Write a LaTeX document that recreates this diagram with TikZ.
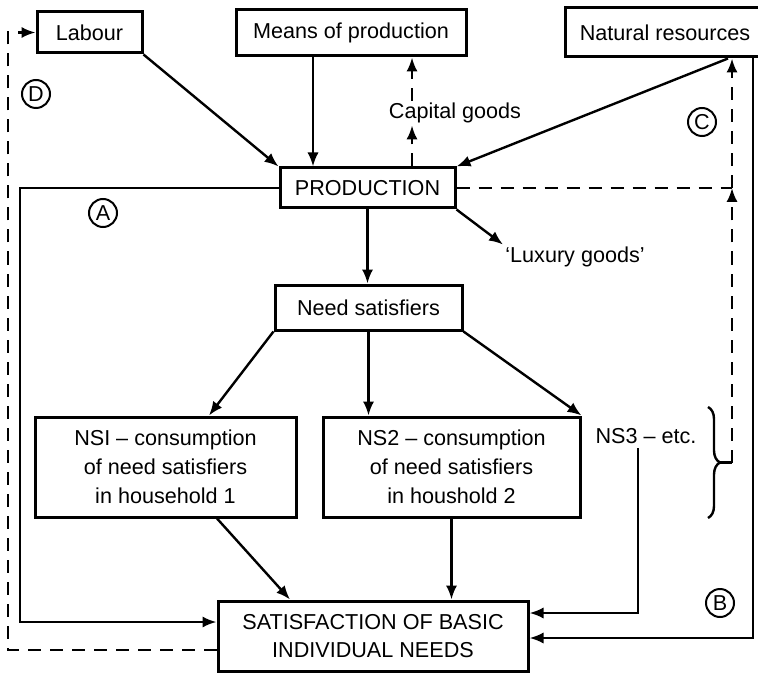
\documentclass[tikz,border=0pt]{standalone}
\usepackage{fontspec}
\setmainfont{Liberation Sans}
\usetikzlibrary{arrows.meta,decorations.pathreplacing,calc}
\begin{document}
\begin{tikzpicture}[x=0.5pt,y=-0.5pt,
  font=\fontsize{10.8}{14.4}\selectfont,
  box/.style={draw,line width=1.5pt,inner sep=0pt,align=center},
  conn/.style={line width=1.2pt},
  arr/.style={conn,-{Latex[length=7pt,width=5.6pt]}},
  dsh/.style={dash pattern=on 6.5pt off 4.5pt},
  tag/.style={draw,circle,line width=1pt,minimum size=14pt,inner sep=0pt}
]
\useasboundingbox (0,0) rectangle (758,673);

% boxes
\node[box,minimum width=52.5pt,minimum height=20.5pt] (lab) at (89.5,32.5) {Labour};
\node[box,minimum width=115pt,minimum height=23pt] (mop) at (351,33) {Means of production};
\node[box,minimum width=100pt,minimum height=24.5pt] (nat) at (665,32.5) {Natural resources};
\node[box,minimum width=87.5pt,minimum height=20pt] (prod) at (367.5,188) {PRODUCTION};
\node[box,minimum width=93.5pt,minimum height=22.5pt] (need) at (368.5,307.5) {Need satisfiers};
\node[box,minimum width=130.5pt,minimum height=50pt] (ns1) at (165.5,467)
  {NSI -- consumption\\of need satisfiers\\in household 1};
\node[box,minimum width=128.5pt,minimum height=50pt] (ns2) at (451.5,467)
  {NS2 -- consumption\\of need satisfiers\\in houshold 2};
\node[box,minimum width=155pt,minimum height=35pt] (sat) at (373,636)
  {SATISFACTION OF BASIC\\INDIVIDUAL NEEDS};

% free labels
\node[inner sep=1pt] (cap) at (455,113) {Capital goods};
\node[anchor=west,inner sep=1pt] (lux) at (503,257) {`Luxury goods'};
\node[inner sep=2pt] (ns3) at (646,436) {NS3 -- etc.};

% circled loop letters
\node[tag] (cD) at (36,94) {D};
\node[tag] (cA) at (103,213) {A};
\node[tag] (cC) at (702,122) {C};
\node[tag] (cB) at (720,603) {B};

% guide positions for the connectors
\coordinate (xm) at (313,0);
\coordinate (xc) at (412,0);
\coordinate (xn) at (728,0);
\coordinate (xr) at (732,0);
\coordinate (xb) at (753,0);
\coordinate (xa) at (20,0);
\coordinate (xd) at (8,0);
\coordinate (x1a) at (217,0);
\coordinate (x1b) at (290,0);
\coordinate (t1) at (209,0);
\coordinate (x3) at (638,0);
\coordinate (ya) at (0,622);
\coordinate (yb) at (0,638);
\coordinate (yd) at (0,650);
\coordinate (y3) at (0,613);
\coordinate (bt) at (720,462.5);

% inputs to production
\draw[arr] (lab.south east) -- (prod.north west);
\draw[arr] (mop.south -| xm) -- (prod.north -| xm);
\draw[arr] (nat.south -| xn) -- (prod.north east);
\draw[arr,dsh] (prod.north -| xc) -- (cap.south -| xc);
\draw[arr,dsh] (cap.north -| xc) -- (mop.south -| xc);

% outputs of production
\draw[arr] (prod.south east) -- (lux.north west);
\draw[arr] (prod.south) -- (prod.south |- need.north);
\draw[arr] (need.south west) -- (t1 |- ns1.north);
\draw[arr] (need.south) -- (need.south |- ns2.north);
\draw[arr] (need.south east) -- (ns2.north east);

% consumption to satisfaction
\draw[arr] (ns1.south -| x1a) -- (sat.north -| x1b);
\draw[arr] (ns2.south) -- (ns2.south |- sat.north);
\draw[arr] (ns3.south -| x3) -- (y3 -| x3) -- (sat.east |- y3);

% brace over the households and return to natural resources
\draw[line width=1.2pt,decorate,decoration={brace,amplitude=6pt}] (708,407) -- (708,518);
\draw[conn] (bt) -- (bt -| xr);
\draw[arr,dsh] (bt -| xr) -- (prod.east -| xr);
\draw[arr,dsh] (prod.east -| xr) -- (nat.south -| xr);
\draw[conn,dsh] (prod.east) -- (prod.east -| xr);

% loops A, B, D
\draw[arr] (prod.west) -- (prod.west -| xa) -- (ya -| xa) -- (sat.west |- ya);
\draw[arr] (nat.south -| xb) -- (yb -| xb) -- (sat.east |- yb);
\draw[arr,dsh] (sat.west |- yd) -- (yd -| xd) -- (lab.west -| xd) -- (lab.west);
\end{tikzpicture}
\end{document}
